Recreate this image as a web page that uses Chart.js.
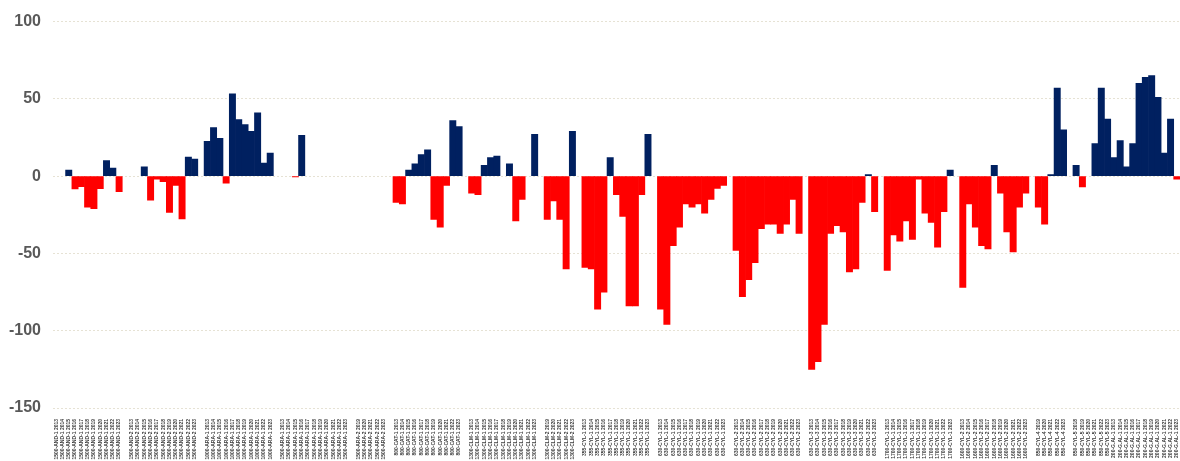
<!DOCTYPE html>
<html>
<head>
<meta charset="utf-8">
<script src="https://cdn.jsdelivr.net/npm/chart.js@4.4.0/dist/chart.umd.min.js"></script>
<style>
  html, body { margin: 0; padding: 0; background: #fff; }
  #wrap { width: 1180px; height: 461px; }
</style>
</head>
<body>
<div id="wrap"><canvas id="chart"></canvas></div>
<script>
// station groups, each runs from its first year to 2023
const stations = ['1500-AND-1', '1500-AND-2', '1000-ARA-1', '1500-ARA-1', '1500-ARA-2', '800-CAT-1',
    '1300-CLM-1', '1300-CLM-2', '355-CYL-1', '630-CYL-1', '630-CYL-2', '630-CYL-3',
    '1700-CYL-1', '1600-CYL-2', '850-CYL-4', '850-CYL-5', '200-G.AL-1'];
const firstYears = [2013, 2013, 2013, 2013, 2019, 2013, 2013, 2019, 2013, 2013, 2013, 2013,
    2013, 2013, 2019, 2018, 2013];
const lastYear = 2023;
// blank slot after a group
const blankAfter = [1, 1, 1, 1, 1, 1, 1, 1, 1, 1, 1, 1, 1, 1, 1, 0, 0];

const groupValues = [
    [null, null, 4, -8.3, -6.8, -20, -21, -8.1, 10, 5.3, -10],
    [null, null, 6, -15.5, -1.9, -3.6, -23.4, -6, -27.7, 12.3, 11],
    [22.5, 31.5, 24.5, -4.5, 53.2, 36.6, 33.4, 29, 41, 8.5, 14.9],
    [null, null, -0.5, 26.4, null, null, null, null, null, null, null],
    [null, null, null, null, null],
    [-17, -18, 4, 8, 14, 17, -28, -33, -6, 36, 32],
    [-11, -12, 7, 12, 13, null, 8, -29, -15, null, 27],
    [-28, -16, -28, -60, 29],
    [-59, -60, -86, -75, 12, -12, -26, -84, -84, -12, 27],
    [-86, -96, -45, -33, -18, -20, -18, -24, -15, -8, -6],
    [-48, -78, -67, -56, -34, -31, -31, -37, -31, -15, -37],
    [-125, -120, -96, -37, -32, -36, -62, -60, -17, 1, -23],
    [-61, -38, -42, -29, -41, -2, -24, -30, -46, -23, 4],
    [-72, -18, -33, -45, -47, 7, -11, -36, -49, -20, -11],
    [-20, -31, 1, 57, 30],
    [7, -7, null, 21, 57, 37],
    [12, 23, 6, 21, 60, 64, 65, 51, 15, 37, -2]
];

const yTicks = [100, 50, 0, -50, -100, -150];

const labels = [];
const values = [];
stations.forEach((name, g) => {
    for (let year = firstYears[g]; year <= lastYear; year++) {
        labels.push(name + ' ' + year);
        values.push(groupValues[g][year - firstYears[g]]);
    }
    if (blankAfter[g]) {
        labels.push('');
        values.push(null);
    }
});

const ctx = document.getElementById('chart').getContext('2d');
new Chart(ctx, {
    type: 'bar',
    data: {
        labels: labels,
        datasets: [{
            data: values,
            backgroundColor: c => (c.raw >= 0 ? '#002060' : '#ff0000'),
            barPercentage: 1,
            categoryPercentage: 1,
            borderWidth: 0
        }]
    },
    options: {
        responsive: true,
        maintainAspectRatio: false,
        animation: false,
        layout: {
            padding: { top: 20, right: 0, left: 0, bottom: 0 }
        },
        plugins: {
            legend: { display: false },
            tooltip: { enabled: false }
        },
        scales: {
            x: {
                grid: { display: false },
                border: { display: false },
                ticks: {
                    autoSkip: false,
                    minRotation: 90,
                    maxRotation: 90,
                    padding: 3,
                    color: '#404040',
                    font: { family: 'Liberation Sans', size: 5, weight: 'bold' }
                },
                afterFit: scale => {
                    scale.height = 53;
                    scale.paddingLeft = 0;
                    scale.paddingRight = 0;
                }
            },
            y: {
                min: -150,
                max: 100,
                afterBuildTicks: scale => {
                    scale.ticks = yTicks.map(v => ({ value: v }));
                },
                grid: {
                    color: '#e6e2d4',
                    lineWidth: 1,
                    drawTicks: false
                },
                border: { display: false, dash: [2, 2] },
                ticks: {
                    padding: 12,
                    color: '#595959',
                    font: { family: 'Liberation Sans', size: 16, weight: 'bold' }
                },
                afterFit: scale => { scale.width = 53; }
            }
        }
    }
});
</script>
</body>
</html>
